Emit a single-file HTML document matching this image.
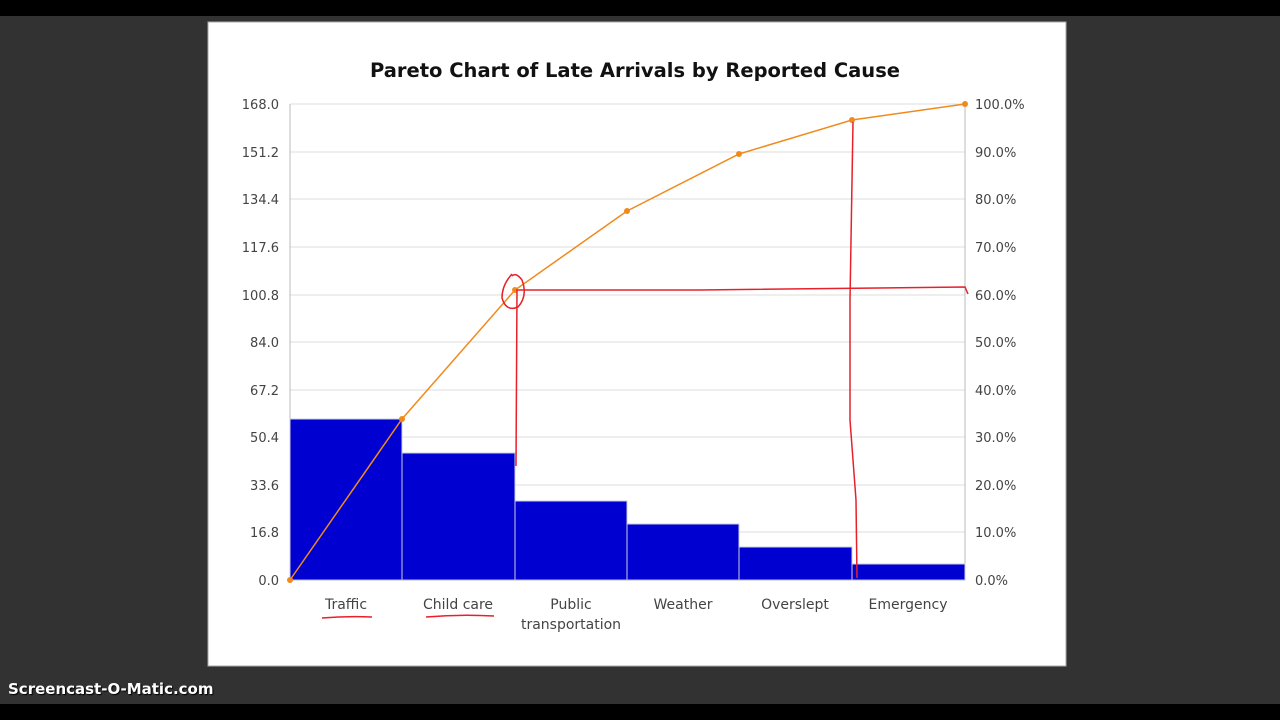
<!DOCTYPE html>
<html><head><style>
body{margin:0;width:1280px;height:720px;background:#323232;position:relative;overflow:hidden;font-family:"DejaVu Sans","Liberation Sans",sans-serif}
</style></head><body>
<div style="position:absolute;left:0;top:0;width:1280px;height:16px;background:#000"></div>
<div style="position:absolute;left:0;top:704px;width:1280px;height:16px;background:#000"></div>
<div style="position:absolute;left:8px;top:680px;color:#fff;font-weight:bold;font-size:15px;text-shadow:1px 1px 1px #000">Screencast-O-Matic.com</div>
<svg width="1280" height="720" style="position:absolute;left:0;top:0">
<rect x="208" y="22" width="858" height="644" fill="#fff" stroke="#aaa"/>
<text x="635" y="77" text-anchor="middle" font-size="19.5" font-weight="bold" fill="#111">Pareto Chart of Late Arrivals by Reported Cause</text>
<g stroke="#ddd" stroke-width="1">
<line x1="290" y1="104" x2="965" y2="104"/><line x1="290" y1="152" x2="965" y2="152"/><line x1="290" y1="199" x2="965" y2="199"/><line x1="290" y1="247" x2="965" y2="247"/><line x1="290" y1="295" x2="965" y2="295"/><line x1="290" y1="342" x2="965" y2="342"/><line x1="290" y1="390" x2="965" y2="390"/><line x1="290" y1="437" x2="965" y2="437"/><line x1="290" y1="485" x2="965" y2="485"/><line x1="290" y1="532" x2="965" y2="532"/>
</g>
<line x1="290" y1="104" x2="290" y2="580" stroke="#bbb"/><line x1="965" y1="104" x2="965" y2="580" stroke="#bbb"/>
<g fill="#0000d0" stroke="#ccd" stroke-width="1">
<rect x="290" y="419" width="112" height="161"/><rect x="402" y="453" width="113" height="127"/><rect x="515" y="501" width="112" height="79"/><rect x="627" y="524" width="112" height="56"/><rect x="739" y="547" width="113" height="33"/><rect x="852" y="564" width="113" height="16"/>
</g>
<line x1="290" y1="580" x2="965" y2="580" stroke="#bbb"/>
<polyline points="290,580 402,419 515,290 627,211 739,154 852,120 965,104" fill="none" stroke="#f08a1c" stroke-width="1.5"/>
<g fill="#f08a1c"><circle cx="290" cy="580" r="3"/><circle cx="402" cy="419" r="3"/><circle cx="515" cy="290" r="3"/><circle cx="627" cy="211" r="3"/><circle cx="739" cy="154" r="3"/><circle cx="852" cy="120" r="3"/><circle cx="965" cy="104" r="3"/></g>
<g font-size="13" fill="#444" text-anchor="end">
<text x="279" y="109">168.0</text><text x="279" y="157">151.2</text><text x="279" y="204">134.4</text><text x="279" y="252">117.6</text><text x="279" y="300">100.8</text><text x="279" y="347">84.0</text><text x="279" y="395">67.2</text><text x="279" y="442">50.4</text><text x="279" y="490">33.6</text><text x="279" y="537">16.8</text><text x="279" y="585">0.0</text>
</g>
<g font-size="13" fill="#444">
<text x="975" y="109">100.0%</text><text x="975" y="157">90.0%</text><text x="975" y="204">80.0%</text><text x="975" y="252">70.0%</text><text x="975" y="300">60.0%</text><text x="975" y="347">50.0%</text><text x="975" y="395">40.0%</text><text x="975" y="442">30.0%</text><text x="975" y="490">20.0%</text><text x="975" y="537">10.0%</text><text x="975" y="585">0.0%</text>
</g>
<g font-size="14" fill="#444" text-anchor="middle">
<text x="346" y="609">Traffic</text><text x="458" y="609">Child care</text><text x="571" y="609">Public</text><text x="571" y="629">transportation</text><text x="683" y="609">Weather</text><text x="795" y="609">Overslept</text><text x="908" y="609">Emergency</text>
</g>
<g fill="none" stroke="#e8202a" stroke-width="1.5">
<path d="M322,618 Q346,616 372,617"/><path d="M426,617 Q460,614 494,616"/>
<path d="M516,466 L517,290 L700,290 L965,287 L968,294"/>
<path d="M512,274 Q502,285 502,298 Q506,312 518,307 Q528,296 522,280 Q516,272 512,276"/>
<path d="M853,122 L850,300 L850,420 L856,500 L857,578"/>
</g>
</svg>
</body></html>
